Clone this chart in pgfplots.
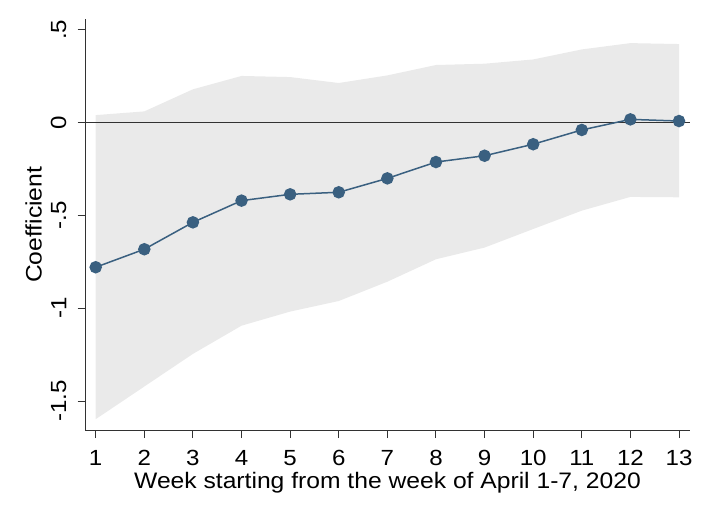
\documentclass[border=0pt]{standalone}
\usepackage{pgfplots}
\usepackage{pgfplotstable}
\pgfplotsset{compat=1.18}
\usepgfplotslibrary{fillbetween}
\usepackage{fontspec}
\setmainfont{Liberation Sans}[FakeStretch=1.1]
\definecolor{navy}{RGB}{58,96,128}
\definecolor{cigray}{RGB}{234,234,234}
\definecolor{axcol}{RGB}{50,50,50}
\pgfplotstableread{
x mean lo hi
1 -0.779 -1.598 0.041
2 -0.682 -1.422 0.061
3 -0.537 -1.246 0.180
4 -0.420 -1.094 0.252
5 -0.386 -1.018 0.246
6 -0.375 -0.961 0.214
7 -0.300 -0.857 0.255
8 -0.212 -0.736 0.311
9 -0.178 -0.673 0.318
10 -0.116 -0.573 0.341
11 -0.039 -0.474 0.395
12 0.018 -0.400 0.429
13 0.009 -0.402 0.424
}\coef
\begin{document}
\begin{tikzpicture}
\begin{axis}[
  name=ax,
  scale only axis, width=605bp, height=411.7bp,
  xmin=0.78, xmax=13.226, ymin=-1.660, ymax=0.559,
  axis x line=bottom, axis y line=left,
  axis line style={-, line width=1bp, axcol},
  xtick={1,...,13},
  ytick={-1.5,-1,-0.5,0,0.5}, yticklabels={-1.5,-1,-.5,0,.5},
  tick align=outside, major tick length=7.5bp,
  tick style={axcol, line width=1bp},
  /pgf/number format/assume math mode=true,
  tick label style={font=\fontsize{22}{26}\selectfont, inner sep=0pt},
  yticklabel style={rotate=90, anchor=south, yshift=11bp},
  xticklabel style={anchor=north, yshift=-12bp},
  label style={font=\fontsize{22.5}{27}\selectfont, inner sep=0pt},
  xlabel={Week starting from the week of April 1-7, 2020},
  xlabel style={at={(axis description cs:0.5,0)}, anchor=north, yshift=-41bp},
  ylabel={Coefficient},
  ylabel style={at={(axis description cs:0,0.5)}, anchor=south, yshift=43bp},
  clip=false,
]
\addplot[name path=up, draw=none, forget plot] table[x=x, y=hi] {\coef};
\addplot[name path=lo, draw=none, forget plot] table[x=x, y=lo] {\coef};
\addplot[cigray, draw=none] fill between[of=up and lo];
\addplot[axcol, line width=1.2bp] coordinates {(0.78,0) (13.226,0)};
\addplot[navy, line width=1.5bp, mark=*, mark size=5.5bp, mark options={fill=navy, draw=navy}] table[x=x, y=mean] {\coef};
\end{axis}
\pgfresetboundingbox
\path[use as bounding box] (ax.south west) ++(-85bp,-85.3bp) rectangle ++(709bp,516bp);
\end{tikzpicture}
\end{document}
